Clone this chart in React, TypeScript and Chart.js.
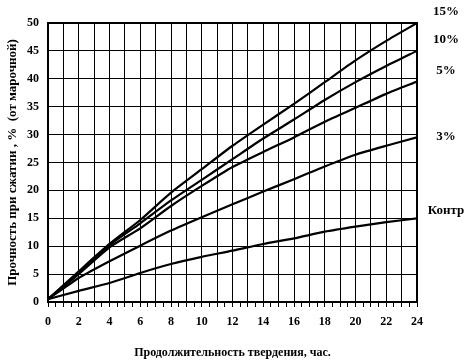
import React, { useEffect, useRef } from "react";
import { Chart, registerables } from "chart.js";

Chart.register(...registerables);

const hours = [0, 2, 4, 6, 8, 10, 12, 14, 16, 18, 20, 22, 24];
const s15 = [0.5, 5.5, 10.4, 14.7, 19.6, 23.8, 28, 31.8, 35.5, 39.4, 43.3, 46.8, 50];
const s10 = [0.5, 5.3, 10.2, 14.1, 18.2, 21.9, 25.6, 29.3, 32.7, 36.2, 39.4, 42.3, 45];
const s5 = [0.5, 5, 9.8, 13.2, 17.2, 20.8, 24.2, 26.9, 29.5, 32.3, 34.8, 37.3, 39.5];
const s3 = [0.5, 4.3, 7.3, 10.1, 12.8, 15.2, 17.5, 19.8, 22, 24.3, 26.4, 28, 29.5];
const sK = [0.5, 2, 3.4, 5.2, 6.8, 8.1, 9.2, 10.4, 11.4, 12.6, 13.5, 14.3, 15];

const seriesNames = ["15%", "10%", "5%", "3%", "Контр"];
const seriesData = [s15, s10, s5, s3, sK];
const labelValues = [52, 47, 41.5, 29.7, 16.3];

const yTitle = "Прочность при сжатии , %  (от марочной)";
const xTitle = "Продолжительность твердения, час.";

const FONT = "'Liberation Serif', 'Times New Roman', serif";

export default function App() {
  const ref = useRef<HTMLCanvasElement | null>(null);

  useEffect(() => {
    document.body.style.margin = "0";
    const canvas = ref.current;
    if (!canvas) return;

    const labelPlugin = {
      id: "endLabels",
      afterDraw(chart: any) {
        const { ctx, chartArea } = chart;
        const y = chart.scales.y;
        ctx.save();
        ctx.strokeStyle = "#000";
        ctx.lineWidth = 2;
        ctx.strokeRect(chartArea.left, chartArea.top, chartArea.right - chartArea.left, chartArea.bottom - chartArea.top);
        ctx.fillStyle = "#000";
        ctx.font = `bold 13px ${FONT}`;
        ctx.textAlign = "center";
        ctx.textBaseline = "middle";
        seriesNames.forEach((n, i) => {
          ctx.fillText(n, chartArea.right + 29, y.getPixelForValue(labelValues[i]));
        });
        ctx.restore();
      },
    };

    const chart = new Chart(canvas, {
      type: "line",
      data: {
        datasets: seriesData.map((d, i) => ({
          label: seriesNames[i],
          data: hours.map((h, j) => ({ x: h, y: d[j] })),
          borderColor: "#000",
          borderWidth: 2.2,
          pointRadius: 0,
          tension: 0.2,
          fill: false,
        })),
      },
      options: {
        animation: false,
        responsive: false,
        maintainAspectRatio: false,
        layout: { padding: { top: 23, right: 54, left: 0, bottom: 0 } },
        plugins: { legend: { display: false }, tooltip: { enabled: false } },
        scales: {
          x: {
            type: "linear",
            min: 0,
            max: 24,
            afterBuildTicks(scale: any) {
              const t = [];
              for (let v = 0; v <= 24; v += 0.5) t.push({ value: v });
              scale.ticks = t;
            },
            afterFit(scale: any) {
              scale.height = 58;
            },
            grid: {
              color: (c: any) => (c.tick && Number.isInteger(c.tick.value) ? "#000" : "rgba(0,0,0,0)"),
              tickColor: "#000",
              tickLength: 5,
              lineWidth: 1,
            },
            border: { color: "#000", width: 2 },
            ticks: {
              autoSkip: false,
              maxRotation: 0,
              padding: 8,
              color: "#000",
              font: { family: FONT, size: 12, weight: "bold" },
              callback: (v: any) => (Number(v) % 2 === 0 ? String(v) : ""),
            },
            title: {
              display: true,
              text: xTitle,
              color: "#000",
              font: { family: FONT, size: 12, weight: "bold" },
              padding: { top: 14, bottom: 0 },
            },
          },
          y: {
            min: 0,
            max: 50,
            afterFit(scale: any) {
              scale.width = 48;
            },
            grid: { color: "#000", lineWidth: 1, drawTicks: false },
            border: { color: "#000", width: 2 },
            ticks: {
              stepSize: 5,
              padding: 9,
              color: "#000",
              font: { family: FONT, size: 12, weight: "bold" },
            },
            title: {
              display: true,
              text: yTitle,
              color: "#000",
              font: { family: FONT, size: 13, weight: "bold" },
              padding: { top: 5, bottom: 0 },
            },
          },
        },
      },
      plugins: [labelPlugin],
    });

    return () => chart.destroy();
  }, []);

  return (
    <div style={{ width: 471, height: 360, background: "#fff" }}>
      <canvas ref={ref} width={471} height={360} style={{ display: "block" }} />
    </div>
  );
}
